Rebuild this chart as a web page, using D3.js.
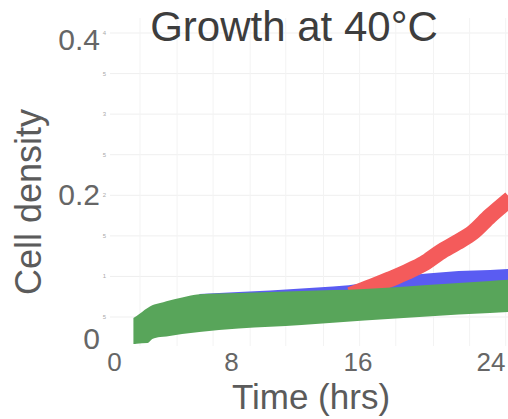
<!DOCTYPE html>
<html>
<head>
<meta charset="utf-8">
<script src="https://cdn.jsdelivr.net/npm/d3@7"></script>
<style>
  body { margin: 0; background: #fff; }
  svg { display: block; font-family: "Liberation Sans", Arial, sans-serif; }
</style>
</head>
<body>
<div id="chart"></div>
<script>
// Chart values
const titleText = "Growth at 40\u00B0C";
const xTitle = "Time (hrs)";
const yTitle = "Cell density";

const xTicks = [0, 8, 16, 24];
const yTicks = [0, 0.2, 0.4];
const yTickLabels = ["0", "0.2", "0.4"];

// faint inner grid of the plotted panel
const gridDensity = [0.05, 0.1, 0.15, 0.2, 0.25, 0.3, 0.35, 0.4];
const gridDensityLabels = ["5", "1", "5", "2", "5", "3", "5", "4"];
const gridTimes = [1.72, 4.08, 6.37, 8.73, 11.0, 13.4, 15.7, 18.0, 20.4, 22.7, 25.0];

// green band (lower / upper edge)
const greenTime  = [1.3, 1.5, 2.2, 2.5, 3.0, 3.4, 4.4, 5.5, 8, 12, 16, 20, 22, 24, 25.3];
const greenUpper = [0.0488, 0.0513, 0.061, 0.0645, 0.0672, 0.0695, 0.0742, 0.0780, 0.0796, 0.0821, 0.0845, 0.0894, 0.092, 0.0944, 0.0960];
const greenLower = [0.0168, 0.0172, 0.018, 0.0229, 0.0254, 0.026, 0.029, 0.0316, 0.0359, 0.0402, 0.0457, 0.0507, 0.053, 0.0550, 0.0562];

// blue band (mostly hidden under green)
const blueTime  = [5.5, 8, 12, 16, 17, 18, 19, 20, 22, 24, 25.3];
const blueUpper = [0.0784, 0.0808, 0.0852, 0.0919, 0.0956, 0.0993, 0.1018, 0.1036, 0.1067, 0.1080, 0.1092];
const blueLower = [0.060, 0.062, 0.065, 0.068, 0.069, 0.070, 0.071, 0.072, 0.073, 0.074, 0.075];

// red trace
const redTime    = [15.1, 16.5, 17.6, 18.7, 19.8, 20.8, 21.9, 22.9, 24, 25.3];
const redDensity = [0.0772, 0.0876, 0.0963, 0.1055, 0.116, 0.1295, 0.1419, 0.1542, 0.1745, 0.196];

const width = 508, height = 419;

const svg = d3.select("#chart").append("svg")
    .attr("width", width)
    .attr("height", height);

// scales
const x = d3.scaleLinear().domain([0, 24]).range([113, 490]);
const y = d3.scaleLinear().domain([0, 0.4]).range([357.6, 33]);
// the big tick labels sit a little off the panel grid
const xLabel = d3.scaleLinear().domain(xTicks).range([114.5, 231.5, 358, 491]);
const yLabel = d3.scaleLinear().domain(yTicks).range([349, 205, 50]);

const plotLeft = 110, plotTop = 18, plotBottom = 346;

svg.append("defs").append("clipPath").attr("id", "plotclip")
    .append("rect")
    .attr("x", plotLeft).attr("y", plotTop)
    .attr("width", width - plotLeft).attr("height", plotBottom - plotTop);

// grid
const grid = svg.append("g");
grid.selectAll(".hgrid")
    .data(gridDensity)
    .enter().append("line")
    .attr("x1", plotLeft).attr("x2", width)
    .attr("y1", d => y(d)).attr("y2", d => y(d))
    .attr("stroke", "#efefef");
grid.selectAll(".vgrid")
    .data(gridTimes)
    .enter().append("line")
    .attr("x1", d => x(d)).attr("x2", d => x(d))
    .attr("y1", plotTop).attr("y2", plotBottom)
    .attr("stroke", "#f3f3f3");
grid.selectAll(".glabel")
    .data(gridDensity)
    .enter().append("text")
    .attr("x", 106)
    .attr("y", d => y(d) + 2)
    .attr("text-anchor", "end")
    .attr("font-size", 6)
    .attr("fill", "#aaa")
    .text((d, i) => gridDensityLabels[i]);

// bands
const marks = svg.append("g").attr("clip-path", "url(#plotclip)");

const bandArea = (times, lo, hi) => d3.area()
    .x((d, i) => x(times[i]))
    .y0((d, i) => y(lo[i]))
    .y1((d, i) => y(hi[i]))
    .curve(d3.curveMonotoneX)(times);

marks.append("path")
    .attr("d", bandArea(blueTime, blueLower, blueUpper))
    .attr("fill", "#5a5cf2");

marks.append("path")
    .attr("d", d3.line()
        .x((d, i) => x(redTime[i]))
        .y((d, i) => y(redDensity[i]))
        .curve(d3.curveMonotoneX)(redTime))
    .attr("fill", "none")
    .attr("stroke", "#f45b5b")
    .attr("stroke-width", 16);

marks.append("path")
    .attr("d", bandArea(greenTime, greenLower, greenUpper))
    .attr("fill", "#58a55a");

// axis tick labels
svg.selectAll(".xtick")
    .data(xTicks)
    .enter().append("text")
    .attr("x", d => xLabel(d))
    .attr("y", 371)
    .attr("text-anchor", "middle")
    .attr("font-size", 26)
    .attr("fill", "#666")
    .text(d => d);

svg.selectAll(".ytick")
    .data(yTicks)
    .enter().append("text")
    .attr("x", 100)
    .attr("y", d => yLabel(d))
    .attr("text-anchor", "end")
    .attr("font-size", 30)
    .attr("fill", "#666")
    .text((d, i) => yTickLabels[i]);

// titles
svg.append("text")
    .attr("x", 294).attr("y", 41)
    .attr("text-anchor", "middle")
    .attr("font-size", 42)
    .attr("fill", "#3d3d3d")
    .text(titleText);

svg.append("text")
    .attr("x", 311).attr("y", 409)
    .attr("text-anchor", "middle")
    .attr("font-size", 35)
    .attr("fill", "#5b5b5b")
    .text(xTitle);

svg.append("text")
    .attr("transform", "translate(41,202) rotate(-90)")
    .attr("text-anchor", "middle")
    .attr("font-size", 36)
    .attr("fill", "#5b5b5b")
    .text(yTitle);
</script>
</body>
</html>
